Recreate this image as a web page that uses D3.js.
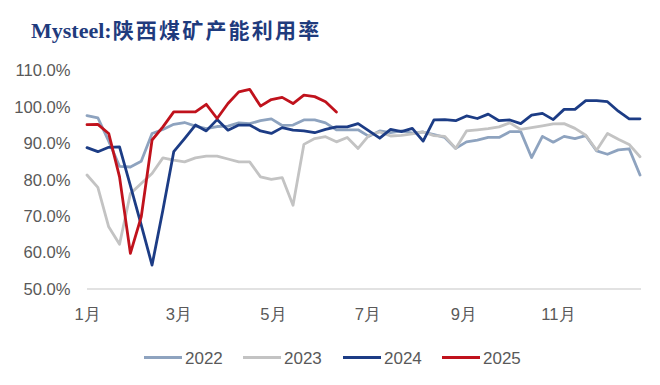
<!DOCTYPE html>
<html><head><meta charset="utf-8">
<script src="https://cdn.jsdelivr.net/npm/d3@7/dist/d3.min.js"></script>
<style>
html,body{margin:0;padding:0;background:#fff;}
svg{display:block;}
</style></head>
<body><svg id="chart" width="660" height="385"></svg>
<script>
const weeks = [1,2,3,4,5,6,7,8,9,10,11,12,13,14,15,16,17,18,19,20,21,22,23,24,25,26,
  27,28,29,30,31,32,33,34,35,36,37,38,39,40,41,42,43,44,45,46,47,48,49,50,51,52];
const monthTicks = [1,3,5,7,9,11];
const monthLabels = ["1月","3月","5月","7月","9月","11月"];
const yTicks = [50,60,70,80,90,100,110];
const seriesNames = ["2022","2023","2024","2025"];

const v2022 = [97.5,96.9,90.5,83.6,83.4,85.0,92.6,93.7,95.1,95.6,94.6,93.9,94.5,94.6,
  95.5,95.3,96.1,96.6,94.8,94.9,96.3,96.3,95.5,93.6,93.6,93.6,91.8,93.3,92.8,93.3,92.7,93.0,
  92.3,91.5,88.5,90.3,90.8,91.5,91.5,93.1,93.1,86.0,91.8,90.2,91.8,91.2,92.0,87.8,86.9,88.1,88.4,81.2];
const v2023 = [81.2,77.8,67.0,62.2,76.1,78.9,81.6,85.9,85.3,84.8,85.9,86.4,86.4,85.6,
  84.8,84.8,80.7,80.0,80.5,72.9,89.6,91.2,91.7,90.3,91.5,88.5,92.1,93.0,91.9,92.1,92.5,93.0,
  92.0,91.8,88.5,93.3,93.6,93.9,94.4,95.5,93.7,94.2,94.7,95.2,95.3,94.0,92.1,88.0,92.6,91.0,89.6,86.2];
const v2024 = [88.7,87.6,88.8,88.9,78.3,67.5,56.5,71.6,87.6,91.2,94.9,93.3,96.4,93.5,
  94.9,94.9,93.3,92.6,94.2,93.5,93.3,92.8,93.7,94.4,94.4,95.3,93.3,91.3,93.7,93.1,94.0,90.5,
  96.3,96.4,96.1,97.4,96.7,97.9,96.1,96.3,95.3,97.6,98.1,96.4,99.2,99.2,101.6,101.6,101.3,98.7,96.6,96.6];
const v2025 = [95.0,95.1,92.6,80.7,59.7,69.7,90.8,94.4,98.5,98.5,98.5,100.6,96.7,100.8,
  104.0,104.7,100.1,101.9,102.5,100.8,103.1,102.7,101.3,98.5];

const colors = ["#8EA3BF","#C3C3C3","#1C3C85","#C0121C"];
const allValues = [v2022, v2023, v2024, v2025];

const svg = d3.select("#chart");
svg.append("rect").attr("width",660).attr("height",385).attr("fill","#fff");

const base = new Date(2023,0,1);
const weekDate = w => d3.timeDay.offset(base, (w-1)*7);

const x = d3.scaleTime()
  .domain([weekDate(weeks[0]), weekDate(weeks[weeks.length-1])])
  .range([87, 640]);
const y = d3.scaleLinear().domain([50,110]).range([288.8, 70]);

// title
const title = svg.append("text").attr("x", 31).attr("y", 38)
  .attr("fill", "#1F3B7D").attr("font-weight", "bold");
title.append("tspan").attr("font-family","'Liberation Serif','Times New Roman',serif")
  .attr("font-size", 22).text("Mysteel:");
title.append("tspan").attr("font-family","'Noto Sans CJK SC',sans-serif")
  .attr("font-size", 21).attr("letter-spacing", 2.2).attr("dx", 1).text("陕西煤矿产能利用率");

// y axis
const yAxis = d3.axisLeft(y).tickValues(yTicks).tickSize(0).tickPadding(0)
  .tickFormat(d => d3.format(".1f")(d) + "%");
const gy = svg.append("g").attr("transform","translate(70.5,0)").call(yAxis);
gy.select(".domain").remove();
gy.selectAll("text").attr("font-family","'Liberation Sans',Arial,sans-serif")
  .attr("font-size", 16.6).attr("fill","#595959").attr("dy","0.34em");

// x axis
const monthDates = monthTicks.map(m => new Date(2023, m-1, 1));
const xAxis = d3.axisBottom(x).tickValues(monthDates).tickSize(0).tickPadding(0)
  .tickFormat((d,i) => monthLabels[i]);
const gx = svg.append("g").attr("transform","translate(0,289)").call(xAxis);
gx.select(".domain").attr("stroke","#D9D9D9").attr("stroke-width",1.3)
  .attr("d","M87,0H641");
gx.selectAll("text").attr("font-family","'Liberation Sans',Arial,sans-serif")
  .attr("font-size", 16.6).attr("fill","#595959").attr("y", 31).attr("dy", 0);

// lines
const line = d3.line().x((d,i) => x(weekDate(weeks[i]))).y(d => y(d));
allValues.forEach((vals, k) => {
  svg.append("path").datum(vals).attr("d", line)
    .attr("fill","none").attr("stroke", colors[k]).attr("stroke-width", 2.8)
    .attr("stroke-linejoin","round").attr("stroke-linecap","round");
});

// legend
const legX = [144, 243, 343, 442];
seriesNames.forEach((name, k) => {
  const g = svg.append("g").attr("transform", `translate(${legX[k]},357.5)`);
  g.append("line").attr("x1",0).attr("x2",38).attr("y1",0).attr("y2",0)
    .attr("stroke", colors[k]).attr("stroke-width", 2.8);
  g.append("text").attr("x", 41).attr("y", 0).attr("dy","0.36em")
    .attr("font-family","'Liberation Sans',Arial,sans-serif")
    .attr("font-size", 17).attr("fill","#595959").text(name);
});
</script></body></html>
